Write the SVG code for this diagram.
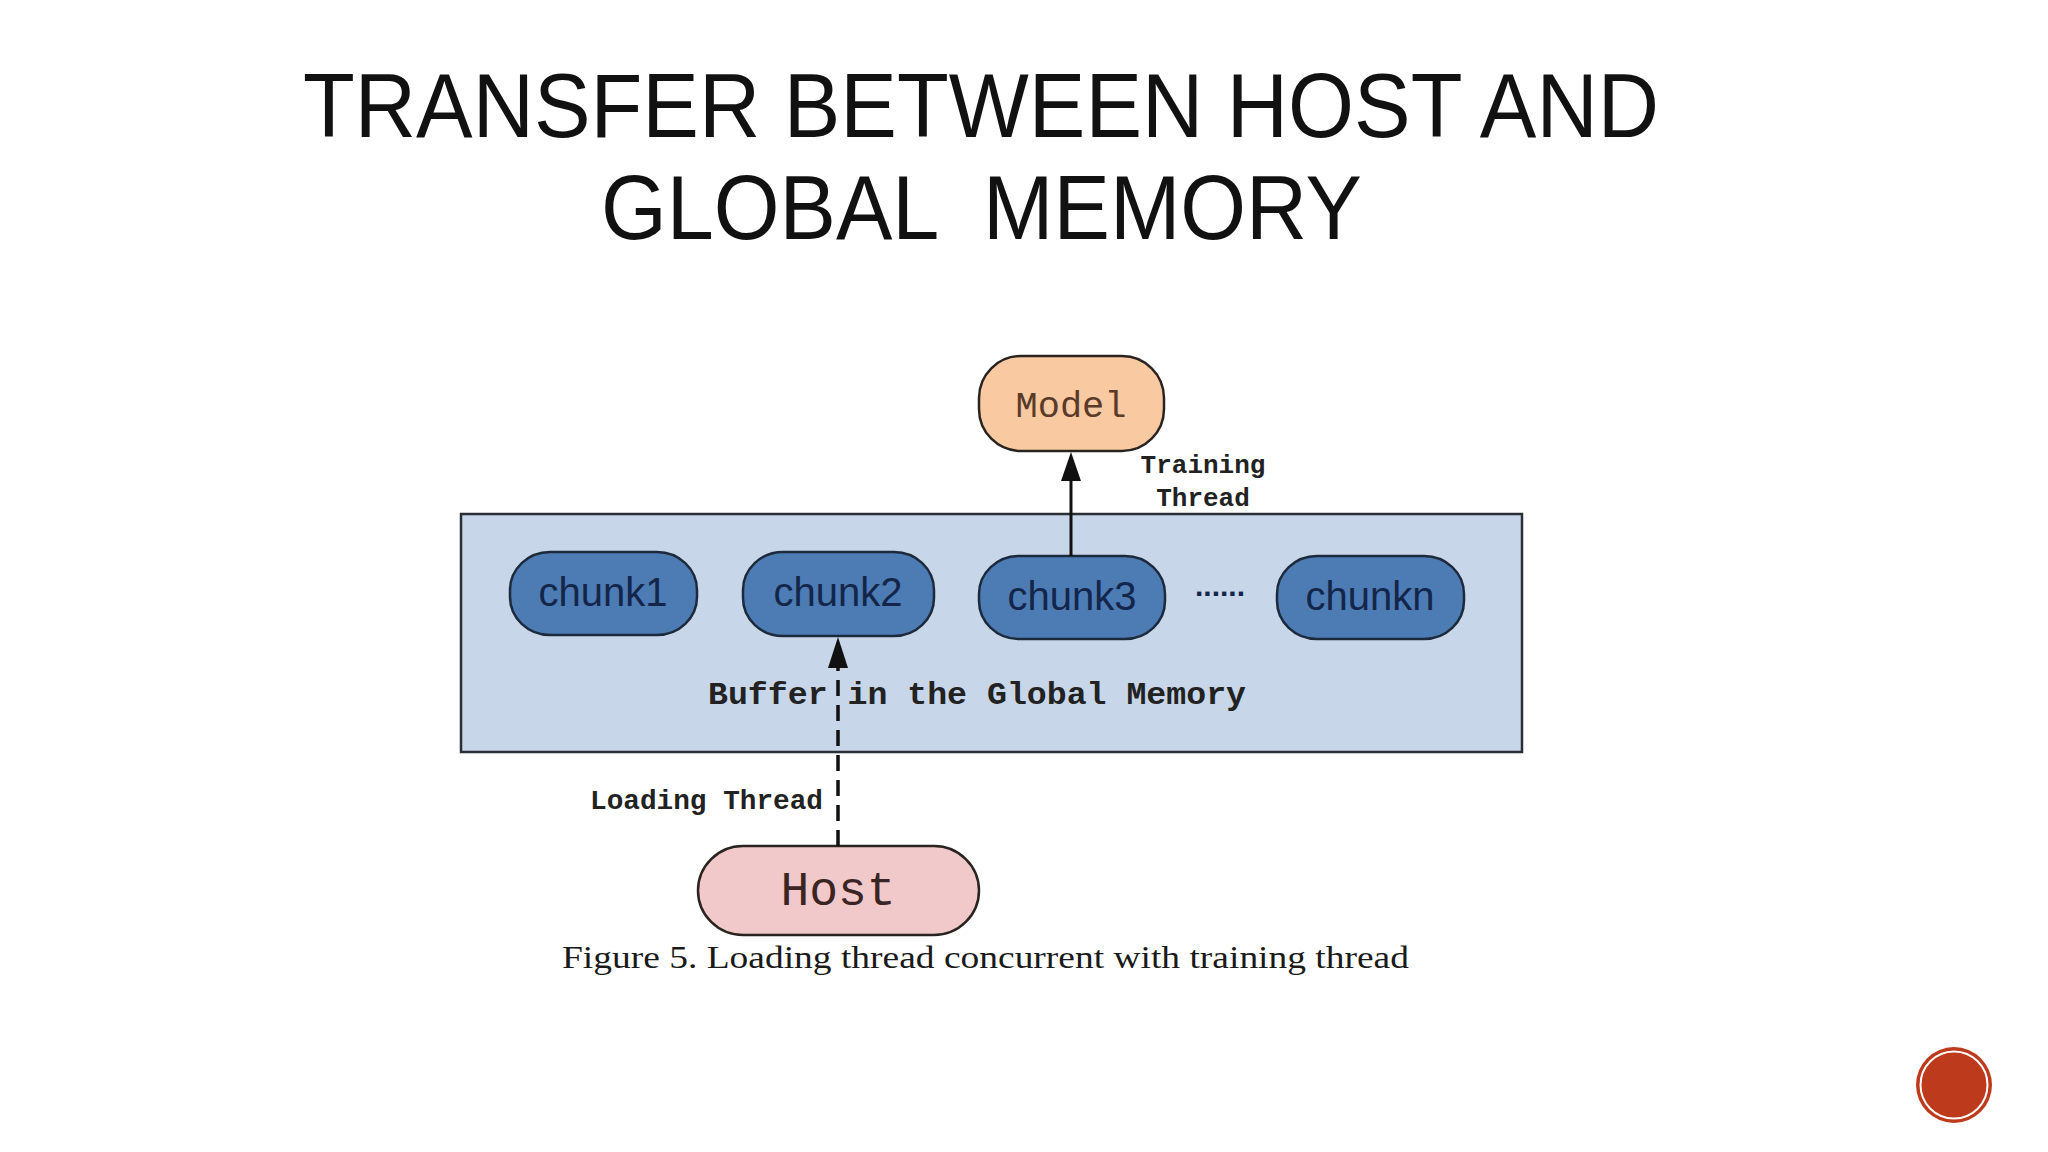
<svg xmlns="http://www.w3.org/2000/svg" width="2048" height="1152" viewBox="0 0 2048 1152">
<defs>
<style>
.title{font-family:"Liberation Sans",Arial,sans-serif;font-size:90px;fill:#111;}
.chunk rect{fill:#4d7bb4;stroke:#1c2a3c;stroke-width:2.5;}
.chunk text{font-family:"Liberation Sans",Arial,sans-serif;font-size:40px;fill:#13264a;text-anchor:middle;}
.mono{font-family:"Liberation Mono","Courier New",monospace;font-weight:bold;fill:#222;}
</style>
</defs>
<rect x="0" y="0" width="2048" height="1152" fill="#ffffff"/>
<g id="title">
<text class="title" x="303" y="137" textLength="1356" lengthAdjust="spacingAndGlyphs">TRANSFER BETWEEN HOST AND</text>
<text class="title" x="601" y="239" textLength="761" lengthAdjust="spacingAndGlyphs" xml:space="preserve">GLOBAL  MEMORY</text>
</g>
<g id="buffer">
<rect x="461" y="514" width="1061" height="238" fill="#c7d6e8" stroke="#2a2f36" stroke-width="2.5"/>
<text class="mono" x="708" y="704" font-size="32" textLength="538" lengthAdjust="spacingAndGlyphs">Buffer in the Global Memory</text>
</g>
<g id="chunk1" class="chunk"><rect x="510" y="552" width="187" height="83" rx="40" ry="38"/><text x="603" y="606">chunk1</text></g>
<g id="chunk2" class="chunk"><rect x="743" y="552" width="191" height="84" rx="40" ry="38"/><text x="838" y="606">chunk2</text></g>
<g id="chunk3" class="chunk"><rect x="979" y="556" width="186" height="83" rx="40" ry="38"/><text x="1072" y="610">chunk3</text></g>
<text x="1220" y="596" font-family="Liberation Sans,Arial,sans-serif" font-size="30" font-weight="bold" fill="#13264a" text-anchor="middle">......</text>
<g id="chunkn" class="chunk"><rect x="1277" y="556" width="187" height="83" rx="40" ry="38"/><text x="1370" y="610">chunkn</text></g>
<g id="model">
<rect x="979" y="356" width="185" height="95" rx="42" ry="42" fill="#f9c9a1" stroke="#2a2420" stroke-width="2.5"/>
<text x="1071" y="417" font-family="Liberation Mono,'Courier New',monospace" font-size="37" fill="#5a3a28" text-anchor="middle">Model</text>
</g>
<g id="host">
<rect x="698" y="846" width="281" height="89" rx="45" ry="45" fill="#f2c9ca" stroke="#2a2420" stroke-width="2.5"/>
<text x="838" y="905" font-family="Liberation Mono,'Courier New',monospace" font-size="48" fill="#3a2424" text-anchor="middle">Host</text>
</g>
<g id="connectors">
<line x1="1071" y1="556" x2="1071" y2="476" stroke="#111" stroke-width="3"/>
<path d="M1071,452 L1061,481 L1081,481 Z" fill="#111"/>
<line x1="838" y1="846" x2="838" y2="668" stroke="#111" stroke-width="3.5" stroke-dasharray="16,9"/>
<path d="M838,637 L828,668 L848,668 Z" fill="#111"/>
</g>
<g id="labels">
<text class="mono" x="1203" y="473" font-size="26" text-anchor="middle">Training</text>
<text class="mono" x="1203" y="506" font-size="26" text-anchor="middle">Thread</text>
<text class="mono" x="590" y="809" font-size="27" textLength="233" lengthAdjust="spacingAndGlyphs">Loading Thread</text>
<text x="562" y="968" font-family="Liberation Serif,'Times New Roman',serif" font-size="31" fill="#1a1a1a" textLength="847" lengthAdjust="spacingAndGlyphs">Figure 5. Loading thread concurrent with training thread</text>
</g>
<g id="badge">
<circle cx="1954" cy="1085" r="38" fill="#bd3a1c"/>
<circle cx="1954" cy="1085" r="33.5" fill="none" stroke="#ffffff" stroke-width="2"/>
</g>
</svg>
